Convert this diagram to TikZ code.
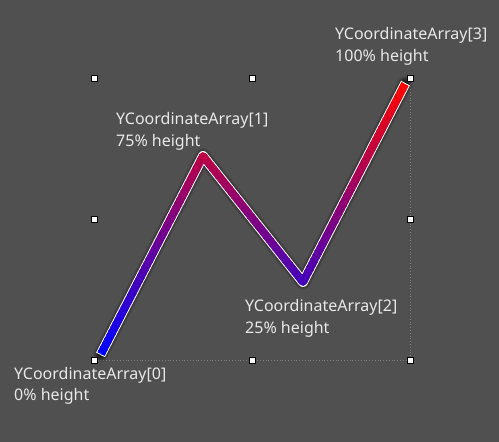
\documentclass[tikz,border=0pt]{standalone}
\usepackage{fontspec}
\setmainfont{Noto Sans}
\begin{document}
\begin{tikzpicture}[x=1pt,y=-1pt,
  lbl/.style={anchor=base west,inner sep=0pt,text=txtc,font=\fontsize{16}{16}\selectfont},
  handle/.style={draw=black,fill=white,line width=0.6pt,minimum size=6pt,inner sep=0pt}]
\definecolor{bgc}{RGB}{80,80,80}
\definecolor{txtc}{RGB}{232,232,232}
\definecolor{dotc}{RGB}{125,125,125}
\fill[bgc] (0,0) rectangle (499,442);
\useasboundingbox (0,0) rectangle (499,442);
% corner coordinates of bounding frame
\coordinate (tl) at (94,78);
\coordinate (tm) at (252,78);
\coordinate (tr) at (410,78);
\coordinate (ml) at (94,219);
\coordinate (mr) at (410,219);
\coordinate (bl) at (94,360);
\coordinate (bm) at (252,360);
\coordinate (br) at (410,360);
% polyline points
\coordinate (p0) at (101,354);
\coordinate (p1) at (203,156);
\coordinate (p2) at (303,282);
\coordinate (p3) at (405,84);
% dotted frame
\draw[dotc,dotted,line width=0.8pt] (tr) -- (br) -- (bl);
% shadow
\foreach \w/\o in {16/0.07,14/0.1,12/0.15,10/0.22,8/0.3}{
  \draw[black,opacity=\o,line width=\w pt,line join=round,line cap=round,shift={(3,4)}]
    (p0) -- (p1) -- (p2) -- (p3);
}
% white outline
\draw[white,line width=10pt,line join=round,shorten <=-1pt,shorten >=-1pt] (p0) -- (p1) -- (p2) -- (p3);
% gradient stroke in horizontal bands
\foreach \i in {0,...,69}{
  \pgfmathsetmacro{\ya}{78+\i*4}
  \pgfmathsetmacro{\yb}{\ya+4.3}
  \pgfmathsetmacro{\pr}{max(0,min(100,(354-(\ya+2))/270*100))}
  \begin{scope}
    \clip (0,\ya) rectangle (499,\yb);
    \draw[red!\pr!blue,line width=8pt,line join=round] (p0) -- (p1) -- (p2) -- (p3);
  \end{scope}
}
% handles
\foreach \c in {tl,tm,tr,ml,mr,bl,bm,br}{
  \node[handle] (h\c) at (\c) {};
}
% labels
\node[lbl] (l3a) at (335,39) {YCoordinateArray[3]};
\node[lbl] (l3b) at (335,61) {100\% height};
\node[lbl] (l1a) at (116,124) {YCoordinateArray[1]};
\node[lbl] (l1b) at (116,146) {75\% height};
\node[lbl] (l2a) at (245,311) {YCoordinateArray[2]};
\node[lbl] (l2b) at (245,333) {25\% height};
\node[lbl] (l0a) at (14,379) {YCoordinateArray[0]};
\node[lbl] (l0b) at (14,400) {0\% height};
\end{tikzpicture}
\end{document}
